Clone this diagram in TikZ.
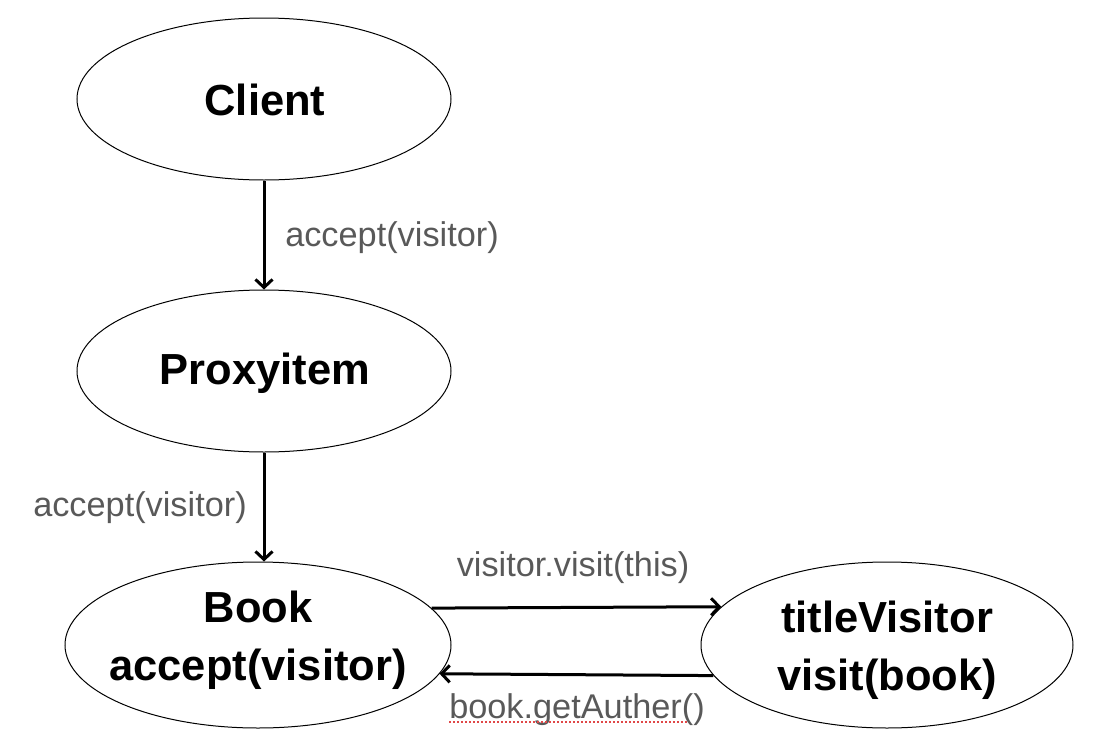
\documentclass[tikz,border=0pt]{standalone}
\usepackage{fontspec}
\setmainfont{Liberation Sans}
\usetikzlibrary{shapes.geometric,arrows.meta}
\definecolor{lbl}{HTML}{595959}
\definecolor{squig}{HTML}{E04848}
\begin{document}
\begin{tikzpicture}[x=1pt,y=-1pt,
  elli/.style={draw, ellipse, line width=1pt, inner sep=0pt},
  bigtxt/.style={font=\fontsize{43.5}{58}\selectfont\bfseries, align=center, inner sep=0pt},
  conn/.style={line width=3pt, -{Straight Barb[length=8pt,width=17pt]}},
  lab/.style={text=lbl, font=\fontsize{34.3}{40}\selectfont, inner sep=0pt},
  udl/.style={squig, dotted, line width=2pt}]
\useasboundingbox (0,0) rectangle (1104,750);
\node[elli, minimum width=374pt, minimum height=162pt] (client) at (264,99) {};
\node[bigtxt] (clienttxt) at (265,100) {Client};
\node[elli, minimum width=374pt, minimum height=162pt] (proxy) at (264,371) {};
\node[bigtxt] (proxytxt) at (265,373) {Proxyitem};
\node[elli, minimum width=386pt, minimum height=166pt] (book) at (258,645) {};
\node[bigtxt] (booktxt) at (258,640) {Book\\accept(visitor)};
\node[elli, minimum width=372pt, minimum height=166pt] (title) at (887,645) {};
\node[bigtxt] (titletxt) at (887,650) {titleVisitor\\visit(book)};

\draw[conn] (client.south) -- (proxy.north);
\draw[conn] (proxy.south) -- (book.north -| proxy.south);
\draw[conn] (book.12.5) -- (title.167);
\draw[conn] (title.190) -- (book.-9);

\node[lab] (lab1) at (392,238) {accept(visitor)};
\node[lab] (lab2) at (140,508) {accept(visitor)};
\node[lab] (lab3) at (573,568) {visitor.visit(this)};
\node[lab] (lab4) at (577,710) {book.getAuther()};
\draw[udl] ([yshift=-3pt]lab4.base west) -- ([xshift=-16pt,yshift=-3pt]lab4.base east);
\end{tikzpicture}
\end{document}
